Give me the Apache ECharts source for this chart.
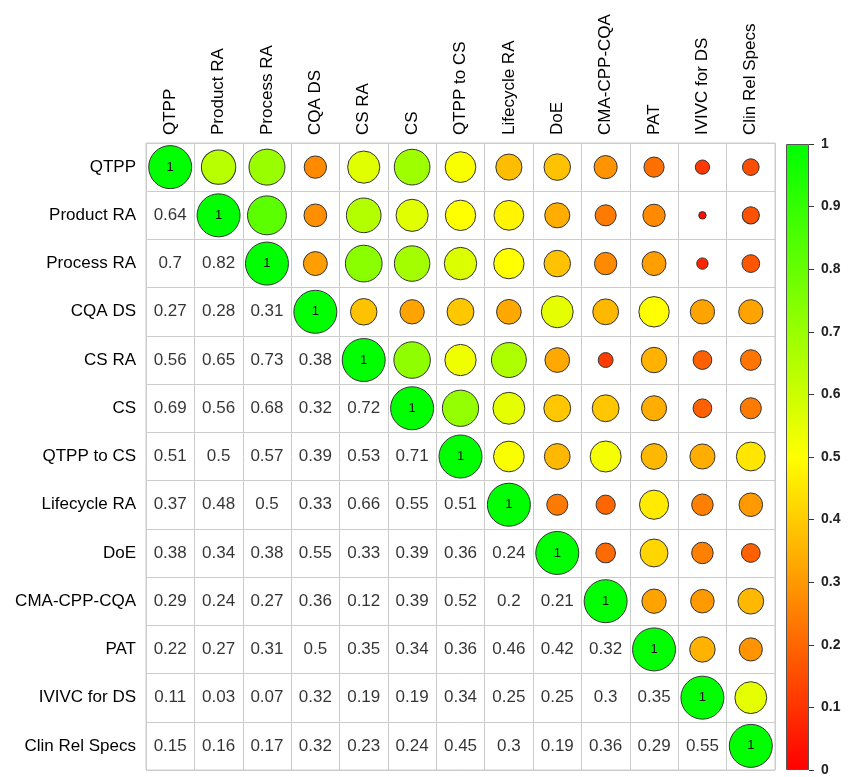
<!DOCTYPE html>
<html>
<head>
<meta charset="utf-8">
<script src="https://cdn.jsdelivr.net/npm/echarts@6/dist/echarts.min.js"></script>
<style>
  html, body { margin: 0; padding: 0; background: #fff; }
  #chart { width: 848px; height: 777px; }
</style>
</head>
<body>
<div id="chart"></div>
<script>
// correlation matrix: names + lower triangle rows
const names = ['QTPP', 'Product RA', 'Process RA', 'CQA DS', 'CS RA', 'CS', 'QTPP to CS',
  'Lifecycle RA', 'DoE', 'CMA-CPP-CQA', 'PAT', 'IVIVC for DS', 'Clin Rel Specs'];

const lower = [
  [],
  [0.64],
  [0.7, 0.82],
  [0.27, 0.28, 0.31],
  [0.56, 0.65, 0.73, 0.38],
  [0.69, 0.56, 0.68, 0.32, 0.72],
  [0.51, 0.5, 0.57, 0.39, 0.53, 0.71],
  [0.37, 0.48, 0.5, 0.33, 0.66, 0.55, 0.51],
  [0.38, 0.34, 0.38, 0.55, 0.33, 0.39, 0.36, 0.24],
  [0.29, 0.24, 0.27, 0.36, 0.12, 0.39, 0.52, 0.2, 0.21],
  [0.22, 0.27, 0.31, 0.5, 0.35, 0.34, 0.36, 0.46, 0.42, 0.32],
  [0.11, 0.03, 0.07, 0.32, 0.19, 0.19, 0.34, 0.25, 0.25, 0.3, 0.35],
  [0.15, 0.16, 0.17, 0.32, 0.23, 0.24, 0.45, 0.3, 0.19, 0.36, 0.29, 0.55]
];

const colorbarTicks = [0, 1];

const corr = (i, j) => (i === j ? 1 : (i > j ? lower[i][j] : lower[j][i]));

const font = 'Liberation Sans';

// upper triangle + diagonal -> circles, lower -> numbers
const circleData = [];
const textData = [];
for (let i = 0; i < names.length; i++) {
  for (let j = 0; j < names.length; j++) {
    const v = corr(i, j);
    if (j >= i) {
      const item = { value: [j, i, v] };
      if (i === j) item.label = { show: true };
      circleData.push(item);
    } else {
      textData.push([j, i, v]);
    }
  }
}

const chart = echarts.init(document.getElementById('chart'));
chart.setOption({
  animation: false,
  textStyle: { fontFamily: font },
  grid: [
    { left: 146, top: 143, width: 629, height: 627, show: true, borderColor: '#cccccc', borderWidth: 1 },
    { left: 786, top: 144, width: 23, bottom: 3 }
  ],
  visualMap: {
    show: false,
    type: 'continuous',
    min: 0,
    max: 1,
    dimension: 2,
    seriesIndex: 0,
    inRange: { color: ['#ff0000', '#ffff00', '#00ff00'] }
  },
  xAxis: [
    {
      type: 'category',
      gridIndex: 0,
      data: names,
      position: 'top',
      axisLine: { show: false },
      axisTick: { show: false },
      axisLabel: { rotate: -90, fontSize: 17, color: '#000', margin: 8, interval: 0, fontFamily: font },
      splitLine: { show: true, interval: 0, lineStyle: { color: '#cccccc', width: 1 } }
    },
    {
      type: 'category',
      gridIndex: 1,
      data: ['c'],
      show: false
    }
  ],
  yAxis: [
    {
      type: 'category',
      gridIndex: 0,
      data: names,
      inverse: true,
      axisLine: { show: false },
      axisTick: { show: false },
      axisLabel: { fontSize: 17, color: '#000', margin: 10, interval: 0, fontFamily: font },
      splitLine: { show: true, interval: 0, lineStyle: { color: '#cccccc', width: 1 } }
    },
    {
      type: 'value',
      gridIndex: 1,
      min: colorbarTicks[0],
      max: colorbarTicks[1],
      interval: 0.1,
      position: 'right',
      axisLine: { show: false },
      axisTick: { show: true, length: 5, lineStyle: { color: '#333' } },
      splitLine: { show: false },
      axisLabel: {
        fontSize: 14, fontWeight: 'bold', color: '#222', margin: 12, fontFamily: font,
        formatter: v => String(Math.round(v * 10) / 10)
      }
    }
  ],
  series: [
    {
      type: 'scatter',
      xAxisIndex: 0,
      yAxisIndex: 0,
      data: circleData,
      symbolSize: d => 43 * Math.sqrt(d[2]),
      itemStyle: { borderColor: '#333', borderWidth: 1, opacity: 1 },
      label: {
        show: false,
        position: 'inside',
        formatter: '1',
        fontSize: 13,
        color: '#111',
        fontFamily: font
      }
    },
    {
      type: 'scatter',
      xAxisIndex: 0,
      yAxisIndex: 0,
      data: textData,
      symbolSize: 1,
      itemStyle: { color: 'rgba(0,0,0,0)' },
      label: {
        show: true,
        position: 'inside',
        formatter: p => String(p.value[2]),
        fontSize: 17,
        color: '#000',
        fontFamily: font
      }
    },
    {
      type: 'bar',
      xAxisIndex: 1,
      yAxisIndex: 1,
      data: [colorbarTicks[1]],
      barWidth: '100%',
      itemStyle: {
        borderColor: '#555',
        borderWidth: 1,
        color: new echarts.graphic.LinearGradient(0, 0, 0, 1, [
          { offset: 0, color: '#00ff00' },
          { offset: 0.5, color: '#ffff00' },
          { offset: 1, color: '#ff0000' }
        ])
      }
    }
  ]
});
</script>
</body>
</html>
